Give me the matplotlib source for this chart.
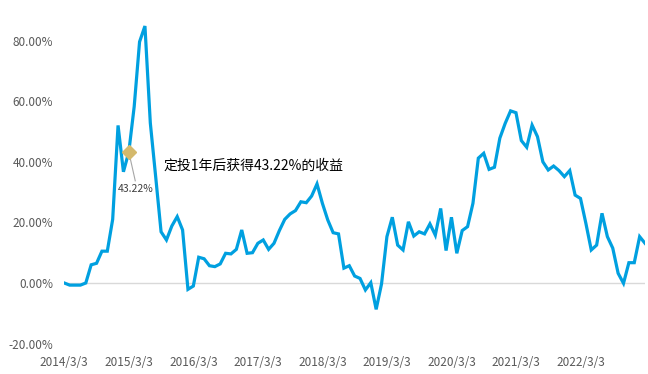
import matplotlib
matplotlib.use('Agg')
import matplotlib.pyplot as plt
from matplotlib.ticker import FuncFormatter

plt.rcParams['font.family'] = ['Noto Sans CJK SC', 'DejaVu Sans']

# monthly return (%) of a 1-year regular investment, starting 2014/3
returns = [0, -0.7, -0.7, -0.7, 0, 6, 6.5, 10.5, 10.5, 21,
           52, 36.7, 43.22, 58.2, 79.6, 84.8, 52.8, 35, 16.9, 14.2,
           18.8, 21.9, 17.5, -2.1, -1, 8.5, 8, 5.7, 5.4, 6.3,
           9.8, 9.6, 11.1, 17.5, 9.8, 10, 13.1, 14.2, 11.1, 13.1,
           17.3, 21, 22.8, 23.9, 26.8, 26.5, 28.7, 32.7, 26.3, 20.8,
           16.6, 16.2, 4.9, 5.7, 2.3, 1.5, -2.3, 0.1, -8.7, -0.3,
           15.3, 21.7, 12.5, 10.9, 20.2, 15.5, 16.9, 16.2, 19.5, 15.8,
           24.6, 10.7, 21.7, 9.8, 17.3, 18.6, 26.3, 41.2, 42.8, 37.5,
           38.2, 47.8, 52.7, 56.8, 56.2, 47, 44.8, 52.1, 48.3, 40,
           37.3, 38.6, 37.1, 35.1, 37.1, 29, 27.9, 19.7, 10.9, 12.5,
           23, 15.3, 11.5, 3.2, -0.1, 6.7, 6.7, 15.3, 13.1]
tick_labels = ['2014/3/3', '2015/3/3', '2016/3/3', '2017/3/3', '2018/3/3',
               '2019/3/3', '2020/3/3', '2021/3/3', '2022/3/3']
highlight_idx = 12  # 2015/3
highlight_text = '定投1年后获得43.22%的收益'

fig = plt.figure(figsize=(6.48, 3.74), dpi=100)
ax = fig.add_axes([0.0992, 0.0813, 0.8962, 0.8912])

x = list(range(len(returns)))
ax.plot(x, returns, color='#00a0e0', lw=2.3, solid_joinstyle='miter', zorder=3)
ax.axhline(0, color='#d9d9d9', lw=1, zorder=1)

# highlighted point with leader line and label
hv = returns[highlight_idx]
ax.plot([highlight_idx, highlight_idx + 1.2], [hv, hv - 9.5], color='#a6a6a6', lw=0.8, zorder=4)
ax.plot(highlight_idx, hv, marker='D', ms=7, color='#d4b96c', mec='#d4b96c', zorder=5)
ax.text(highlight_idx + 1.3, hv - 10.5, '%.2f%%' % hv, ha='center', va='top',
        fontsize=7.5, color='#404040')
ax.text(18.4, 38.8, highlight_text, ha='left', va='center', fontsize=10, color='black')

ax.set_xlim(0, len(returns) - 1)
ax.set_ylim(-20, 90)
ax.set_yticks([-20, 0, 20, 40, 60, 80])
ax.yaxis.set_major_formatter(FuncFormatter(lambda v, p: '%.2f%%' % v))
ax.set_xticks(range(0, 12 * len(tick_labels), 12))
ax.set_xticklabels(tick_labels)
ax.tick_params(length=0, labelsize=8.5, labelcolor='#595959')
ax.tick_params(axis='y', pad=8)
ax.tick_params(axis='x', pad=9)
for s in ax.spines.values():
    s.set_visible(False)

fig.savefig('out.png', dpi=100)
